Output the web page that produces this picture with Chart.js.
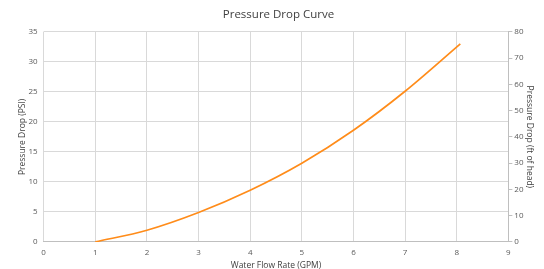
<!DOCTYPE html>
<html lang="en">
<head>
    <meta charset="UTF-8">
    <title>Pressure Drop Curve</title>
    <style>
body, html {
    margin: 0;
    padding: 0;
    background-color: #ffffff;
}
#wrap {
    width: 544px;
    height: 269px;
}
    </style>
    <script src="https://cdn.jsdelivr.net/npm/chart.js"></script>
</head>
<body>
    <div id="wrap"><canvas id="pressureChart"></canvas></div>

    <script>
        // Flow rate (GPM) and pressure drop (PSI)
        const flowRates = [1, 2, 3, 4, 5, 6, 7, 8.07];
        const pressurePsi = [0, 1.95, 4.9, 8.6, 13.1, 18.6, 25.1, 33.0];
        const xTicks = [0, 1, 2, 3, 4, 5, 6, 7, 8, 9];
        const psiTicks = [0, 5, 10, 15, 20, 25, 30, 35];
        const headTicks = [0, 10, 20, 30, 40, 50, 60, 70, 80];

        const points = flowRates.map((q, i) => ({ x: q, y: pressurePsi[i] }));
        const font = { family: "'Open Sans', sans-serif", size: 8 };
        const titleFont = { family: "'Open Sans', sans-serif", size: 8.5, lineHeight: 1.0 };
        const gridColor = '#d9d9d9';

        const ctx = document.getElementById('pressureChart').getContext('2d');
        new Chart(ctx, {
            type: 'scatter',
            data: {
                datasets: [{
                    data: points,
                    showLine: true,
                    borderColor: '#ff8c1a',
                    borderWidth: 1.7,
                    pointRadius: 0,
                    cubicInterpolationMode: 'monotone',
                    fill: false,
                    yAxisID: 'y'
                }]
            },
            options: {
                responsive: true,
                maintainAspectRatio: false,
                animation: false,
                layout: { padding: { left: 18, right: 5, top: 4, bottom: -1 } },
                plugins: {
                    legend: { display: false },
                    tooltip: { enabled: false },
                    title: {
                        display: true,
                        text: 'Pressure Drop Curve',
                        color: '#404040',
                        font: { family: "'Open Sans', sans-serif", size: 11.5, weight: 'normal' },
                        padding: { top: 4, bottom: 10 }
                    }
                },
                scales: {
                    x: {
                        type: 'linear',
                        min: 0,
                        max: 9,
                        afterBuildTicks: axis => { axis.ticks = xTicks.map(v => ({ value: v })); },
                        ticks: { color: '#595959', font: font, padding: 6 },
                        grid: { color: gridColor, tickLength: 0 },
                        border: { color: '#bfbfbf', width: 1 },
                        title: { display: true, text: 'Water Flow Rate (GPM)', color: '#404040', font: titleFont, padding: { top: -2, bottom: 0 } }
                    },
                    y: {
                        position: 'left',
                        min: 0,
                        max: 35,
                        afterBuildTicks: axis => { axis.ticks = psiTicks.map(v => ({ value: v })); },
                        ticks: { color: '#595959', font: font, padding: 6 },
                        grid: { color: gridColor, tickLength: 0 },
                        border: { display: false },
                        title: { display: true, text: 'Pressure Drop (PSI)', color: '#404040', font: titleFont, padding: { top: 0, bottom: -4 } }
                    },
                    y2: {
                        position: 'right',
                        min: 0,
                        max: 80,
                        afterBuildTicks: axis => { axis.ticks = headTicks.map(v => ({ value: v })); },
                        ticks: { color: '#595959', font: font, padding: 2 },
                        grid: { drawOnChartArea: false, color: '#bfbfbf', tickLength: 4 },
                        border: { color: '#bfbfbf', width: 1 },
                        title: { display: true, text: 'Pressure Drop (ft of head)', color: '#404040', font: titleFont, padding: { top: 5, bottom: 0 } }
                    }
                }
            }
        });
    </script>
</body>
</html>
